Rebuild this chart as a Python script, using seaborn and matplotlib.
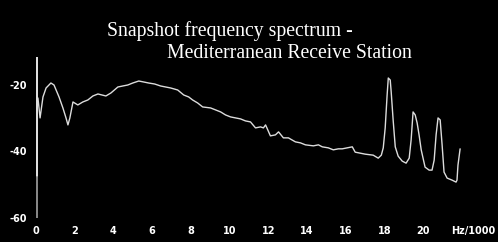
import matplotlib
matplotlib.use("Agg")
import matplotlib.pyplot as plt
import seaborn as sns
import pandas as pd

# Spectrum (frequency in kHz, level in dB)
freq_khz = [0.10, 0.21, 0.36, 0.52, 0.77, 0.93, 1.19, 1.39, 1.55, 1.65, 1.75, 1.91,
            2.16, 2.42, 2.68, 2.94, 3.20, 3.61, 3.87, 4.23, 4.48, 4.74, 5.00, 5.31,
            5.57, 5.82, 6.13, 6.44, 6.70, 6.96, 7.32, 7.63, 7.89, 8.09, 8.35, 8.61,
            9.02, 9.28, 9.54, 9.79, 10.05, 10.31, 10.57, 10.82, 11.08, 11.34, 11.60,
            11.75, 11.86, 12.11, 12.37, 12.53, 12.78, 13.04, 13.40, 13.66, 13.92,
            14.33, 14.59, 14.79, 15.10, 15.36, 15.62, 15.82, 16.08, 16.34, 16.49,
            16.75, 17.01, 17.42, 17.68, 17.84, 17.94, 18.04, 18.14, 18.20, 18.30,
            18.35, 18.45, 18.56, 18.71, 18.92, 19.12, 19.28, 19.38, 19.48, 19.59,
            19.69, 19.79, 19.90, 20.10, 20.31, 20.46, 20.57, 20.67, 20.77, 20.88,
            20.98, 21.08, 21.24, 21.49, 21.70, 21.75, 21.80, 21.91]
level_db = [-23.9, -29.9, -23.6, -20.9, -19.4, -20.0, -23.6, -26.9, -29.9, -32.0, -29.9, -25.1,
            -26.0, -25.1, -24.5, -23.3, -22.7, -23.3, -22.4, -20.6, -20.3, -20.0, -19.4, -18.8,
            -19.1, -19.4, -19.7, -20.3, -20.6, -20.9, -21.5, -23.0, -23.6, -24.5, -25.4, -26.6,
            -26.9, -27.5, -28.1, -29.0, -29.6, -29.9, -30.2, -30.8, -31.1, -32.9, -32.6,
            -32.9, -32.0, -35.3, -35.0, -34.1, -35.9, -35.9, -37.1, -37.4, -38.0,
            -38.3, -38.0, -38.6, -38.9, -39.5, -39.2, -39.2, -38.9, -38.6, -40.2,
            -40.5, -40.8, -41.1, -42.0, -41.1, -38.9, -32.9, -23.0, -17.9, -18.5,
            -22.1, -30.5, -38.6, -41.4, -42.9, -43.5, -42.0, -36.5, -28.1, -29.0,
            -31.4, -35.0, -39.5, -44.7, -45.6, -45.6, -42.6, -35.0, -29.9, -30.5,
            -38.0, -46.2, -48.0, -48.6, -49.2, -48.6, -44.1, -39.2]

x_ticks = [0, 2, 4, 6, 8, 10, 12, 14, 16, 18, 20, 22.6]
x_tick_labels = ["0", "2", "4", "6", "8", "10", "12", "14", "16", "18", "20", "Hz/1000"]
y_ticks = [-20, -40, -60]
y_tick_labels = ["-20", "-40", "-60"]
title_line1 = "Snapshot frequency spectrum -"
title_line2 = "Mediterranean Receive Station"

df = pd.DataFrame({"freq": freq_khz, "level": level_db})

sns.set_theme(style="dark")
W, H = 498, 242
fig = plt.figure(figsize=(W / 100, H / 100), dpi=100, facecolor="black")
left_px, right_px = 36, 482
top_px, bottom_px = 57, 218
ax = fig.add_axes([left_px / W, 1 - bottom_px / H, (right_px - left_px) / W,
                   (bottom_px - top_px) / H])
ax.set_facecolor("black")
ax.set_xlim(0.05, (right_px - 35) / 19.4)
ax.set_ylim(-60, -60 + (bottom_px - top_px) / 3.325)

sns.lineplot(data=df, x="freq", y="level", ax=ax, color="#dcdcdc", linewidth=1.0,
             estimator=None, sort=False)

ax.grid(False)
for s in ax.spines.values():
    s.set_visible(False)
split = (-47.7 + 60) / ((bottom_px - top_px) / 3.325)
ax.axvline(0.05, ymin=split, ymax=1, color="#e6e6e6", linewidth=1.4)
ax.axvline(0.05, ymin=0, ymax=split, color="#8a8a8a", linewidth=1.4)

ax.set_xticks(x_ticks)
ax.set_xticklabels(x_tick_labels)
ax.set_yticks(y_ticks)
ax.set_yticklabels(y_tick_labels)
ax.tick_params(axis="both", length=0, colors="white")
ax.tick_params(axis="x", pad=5.5)
ax.tick_params(axis="y", pad=6.5)
for lab in ax.get_xticklabels() + ax.get_yticklabels():
    lab.set_fontfamily("DejaVu Sans")
    lab.set_fontweight("bold")
    lab.set_fontsize(7)
    lab.set_color("white")
ax.set_xlabel("")
ax.set_ylabel("")

fig.text(107 / W, 1 - 31 / H, title_line1, color="white", fontsize=14.2,
         family="Liberation Serif", ha="left", va="center")
fig.text(167 / W, 1 - 54 / H, title_line2, color="white", fontsize=14.2,
         family="Liberation Serif", ha="left", va="center")

fig.savefig("out.png", dpi=100, facecolor="black")
